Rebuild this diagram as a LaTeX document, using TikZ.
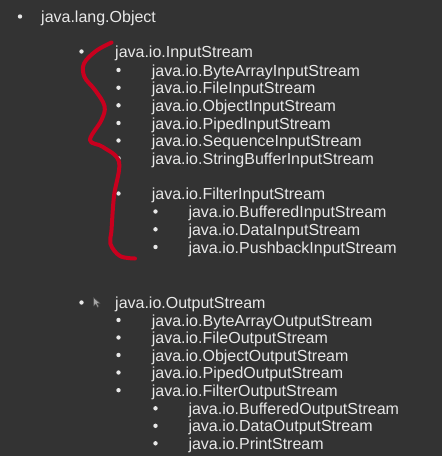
\documentclass[tikz,border=0pt]{standalone}
\usepackage{fontspec}
\setmainfont{Liberation Sans}
\definecolor{bgc}{HTML}{333333}
\definecolor{txc}{HTML}{E8E8E8}
\definecolor{inkred}{HTML}{C8001E}
\begin{document}
\begin{tikzpicture}[x=1pt,y=-1pt,
  item/.style={anchor=base west,inner sep=0pt,text=txc,font=\fontsize{16}{16}\selectfont},
  dot/.style={circle,fill=txc,inner sep=0pt,minimum size=4.4pt}]
\fill[bgc] (0,0) rectangle (442,456);
\useasboundingbox (0,0) rectangle (442,456);
% level 0
\node[dot] (b0) at (20,16.5) {};
\node[item] (t0) at (41,22.5) {java.lang.Object};
% InputStream
\node[dot] (b1) at (81.5,51.5) {};
\node[item] (t1) at (115,57.5) {java.io.InputStream};
\foreach \n/\y/\txt in {a/70/ByteArrayInputStream,b/87.7/FileInputStream,c/105.3/ObjectInputStream,d/123/PipedInputStream,e/140.5/SequenceInputStream,f/158.3/StringBufferInputStream,g/193.5/FilterInputStream}{
  \node[dot] (b2\n) at (118.5,\y) {};
  \node[item] (t2\n) at (151.7,\y+6) {java.io.\txt};
}
\foreach \n/\y/\txt in {a/211.5/BufferedInputStream,b/229.3/DataInputStream,c/247/PushbackInputStream}{
  \node[dot] (b3\n) at (155.5,\y) {};
  \node[item] (t3\n) at (188.3,\y+6) {java.io.\txt};
}
% OutputStream
\node[dot] (c1) at (81.5,302.5) {};
\node[item] (u1) at (115,308.5) {java.io.OutputStream};
\foreach \n/\y/\txt in {a/320/ByteArrayOutputStream,b/337.5/FileOutputStream,c/355/ObjectOutputStream,d/372.5/PipedOutputStream,e/390.2/FilterOutputStream}{
  \node[dot] (c2\n) at (118.5,\y) {};
  \node[item] (u2\n) at (151.7,\y+6) {java.io.\txt};
}
\foreach \n/\y/\txt in {a/408.3/BufferedOutputStream,b/425.8/DataOutputStream,c/443.3/PrintStream}{
  \node[dot] (c3\n) at (155.5,\y) {};
  \node[item] (u3\n) at (188.3,\y+6) {java.io.\txt};
}
% red hand-drawn squiggle
\draw[inkred,line width=4pt,line cap=round,line join=round]
  plot[smooth,tension=0.6] coordinates {(111.5,42.5) (96,51) (84,63.5) (84.5,77) (95,90) (104.5,106) (101.5,120) (90,140) (103,147) (119,162) (114,196) (111.5,230) (110.5,244) (120,256) (135,258.5)};
% mouse cursor
\fill[gray!70,draw=black!70,line width=0.5pt] (93.5,297.5) -- (93.5,306) -- (95.7,304) -- (97.5,307.3) -- (98.8,306.6) -- (97.2,303.5) -- (100,303.3) -- cycle;
\end{tikzpicture}
\end{document}
